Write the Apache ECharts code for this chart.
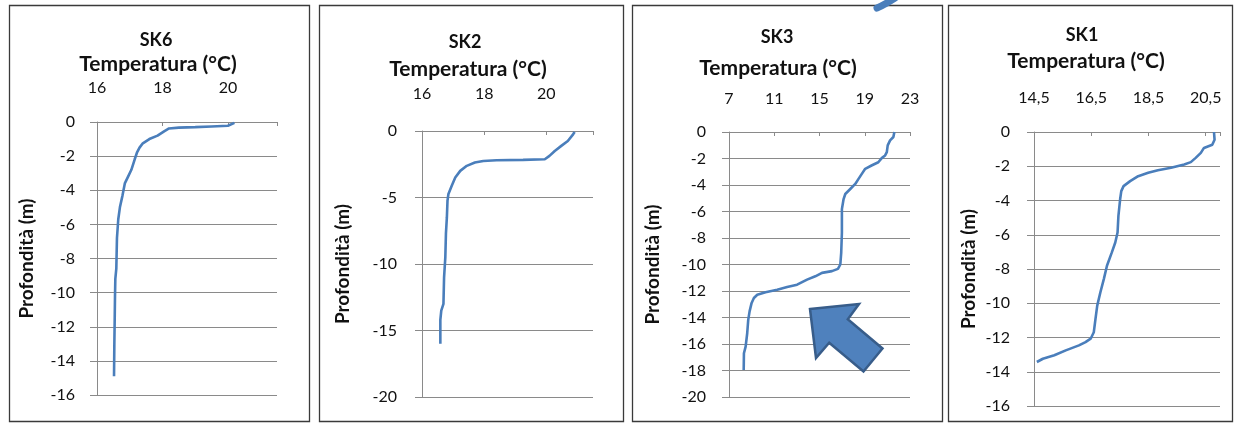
<!DOCTYPE html>
<html><head><meta charset="utf-8">
<script src="https://cdn.jsdelivr.net/npm/echarts@6/dist/echarts.min.js"></script>
<style>html,body{margin:0;padding:0;background:#fff}#c{width:1234px;height:423px}</style>
</head><body><div id="c"></div>
<script>
// ---- data ----
const panelNames = ['SK6', 'SK2', 'SK3', 'SK1'];
const xAxisTitle = 'Temperatura (°C)';
const yAxisTitle = 'Profondità (m)';

const sk6XTicks = [16, 18, 20];
const sk2XTicks = [16, 18, 20];
const sk3XTicks = [7, 11, 15, 19, 23];
const sk1XTicks = [14.5, 16.5, 18.5, 20.5];

const sk6YTicks = [0, -2, -4, -6, -8, -10, -12, -14, -16];
const sk2YTicks = [0, -5, -10, -15, -20];
const sk3YTicks = [0, -2, -4, -6, -8, -10, -12, -14, -16, -18, -20];
const sk1YTicks = [0, -2, -4, -6, -8, -10, -12, -14, -16];

const sk6XRange = [16, 21.5];
const sk2XRange = [16, 21.5];
const sk3XRange = [7, 23];
const sk1XRange = [14.5, 21];

// [temperature °C, depth m]
const sk6 = [[20.2,-0.05],[20.15,-0.15],[20.0,-0.22],[19.5,-0.26],[19.0,-0.3],[18.5,-0.33],[18.2,-0.38],[18.05,-0.55],[17.85,-0.8],[17.6,-1.0],[17.4,-1.25],[17.3,-1.5],[17.22,-1.8],[17.15,-2.2],[17.05,-2.8],[16.95,-3.2],[16.85,-3.6],[16.78,-4.3],[16.7,-5.0],[16.65,-5.7],[16.61,-6.8],[16.59,-8.6],[16.56,-9.2],[16.55,-10.2],[16.54,-11.7],[16.53,-13.0],[16.52,-14.9]];
const sk2 = [[20.91,-0.07],[20.86,-0.25],[20.69,-0.75],[20.48,-1.12],[20.27,-1.5],[20.1,-1.87],[19.95,-2.12],[19.25,-2.17],[18.4,-2.2],[17.97,-2.25],[17.7,-2.37],[17.44,-2.62],[17.23,-3.0],[17.07,-3.5],[16.96,-4.1],[16.85,-4.74],[16.82,-5.24],[16.8,-6.5],[16.77,-7.7],[16.75,-9.5],[16.71,-11.0],[16.69,-13.0],[16.62,-13.5],[16.59,-14.2],[16.59,-16.0]];
const sk3 = [[21.62,0],[21.53,-0.38],[21.24,-0.63],[21.03,-1.01],[20.95,-1.52],[20.8,-1.77],[20.5,-1.97],[20.2,-2.28],[19.6,-2.53],[19.04,-2.78],[18.74,-3.16],[18.45,-3.54],[18.16,-3.92],[17.72,-4.3],[17.28,-4.68],[17.13,-5.06],[16.98,-5.82],[16.98,-7.6],[16.92,-9.1],[16.84,-10.0],[16.63,-10.33],[16.1,-10.5],[15.22,-10.63],[14.63,-10.89],[13.9,-11.14],[13.02,-11.52],[12.14,-11.7],[11.26,-11.9],[10.23,-12.1],[9.5,-12.28],[9.2,-12.53],[9.0,-12.9],[8.82,-13.54],[8.7,-14.18],[8.61,-15.19],[8.47,-16.2],[8.32,-16.7],[8.3,-17.97]];
const sk1 = [[20.79,0],[20.81,-0.45],[20.73,-0.74],[20.44,-0.93],[20.33,-1.22],[20.15,-1.51],[19.98,-1.76],[19.75,-1.9],[19.29,-2.09],[18.83,-2.23],[18.49,-2.38],[18.14,-2.58],[17.86,-2.87],[17.63,-3.16],[17.55,-3.45],[17.51,-3.93],[17.45,-4.9],[17.42,-5.87],[17.34,-6.45],[17.22,-7.03],[17.05,-7.81],[16.94,-8.59],[16.82,-9.36],[16.71,-10.14],[16.65,-10.9],[16.59,-11.69],[16.48,-12.07],[16.3,-12.27],[16.07,-12.46],[15.61,-12.75],[15.21,-13.04],[14.81,-13.24],[14.6,-13.43]];

// ---- layout / style ----
const seriesData = [sk6, sk2, sk3, sk1];
const xTicksAll = [sk6XTicks, sk2XTicks, sk3XTicks, sk1XTicks];
const yTicksAll = [sk6YTicks, sk2YTicks, sk3YTicks, sk1YTicks];
const xRanges = [sk6XRange, sk2XRange, sk3XRange, sk1XRange];

const layout = [
  {grid:{left:97, top:122, width:180, height:273}, xInt:2, yInt:2, titleX:156, titleY:40, subX:158, subY:64, xMargin:26, yMargin:22, nameGap:61, border:[9,5,300,416]},
  {grid:{left:422, top:131, width:171, height:266}, xInt:2, yInt:5, titleX:465, titleY:42, subX:468, subY:69, xMargin:29, yMargin:25, nameGap:70, border:[319,5,304,416]},
  {grid:{left:729, top:132, width:181, height:265}, xInt:4, yInt:2, titleX:777, titleY:37, subX:778, subY:68, xMargin:25, yMargin:23, nameGap:67, border:[632,5,310,416]},
  {grid:{left:1034, top:132, width:186, height:274}, xInt:2, yInt:2, titleX:1082, titleY:35, subX:1086, subY:61, xMargin:26, yMargin:24, nameGap:56, border:[948,5,284,416]}
];

const FONT = 'Lato, "Open Sans", sans-serif';
const GRID_COLOR = '#8a8a8a';
const LINE_COLOR = '#4a7ebb';
const TEXT_COLOR = '#111';

const grids = [], xAxes = [], yAxes = [], series = [], graphics = [];
layout.forEach((L, i) => {
  grids.push(Object.assign({containLabel:false}, L.grid));
  const xt = xTicksAll[i], yt = yTicksAll[i];
  xAxes.push({
    type:'value', gridIndex:i, position:'top',
    min:xRanges[i][0], max:xRanges[i][1], interval:L.xInt,
    axisLine:{show:true, onZero:false, lineStyle:{color:GRID_COLOR, width:1}},
    axisTick:{show:true, inside:true, length:4, lineStyle:{color:GRID_COLOR}},
    splitLine:{show:false},
    axisLabel:{
      margin:L.xMargin, color:TEXT_COLOR, fontFamily:FONT, fontSize:16,
      formatter: v => xt.some(t => Math.abs(t - v) < 1e-6) ? String(v).replace('.', ',') : ''
    }
  });
  yAxes.push({
    type:'value', gridIndex:i,
    min:Math.min(...yt), max:Math.max(...yt), interval:L.yInt,
    name:yAxisTitle, nameLocation:'middle', nameRotate:90, nameGap:L.nameGap,
    nameTextStyle:{fontFamily:FONT, fontWeight:'bold', fontSize:19, color:TEXT_COLOR},
    axisLine:{show:true, onZero:false, lineStyle:{color:GRID_COLOR, width:1}},
    axisTick:{show:true, inside:false, length:7, lineStyle:{color:GRID_COLOR}},
    splitLine:{show:true, lineStyle:{color:GRID_COLOR, width:1}},
    axisLabel:{margin:L.yMargin, color:TEXT_COLOR, fontFamily:FONT, fontSize:16,
      formatter: v => yt.includes(v) ? String(v) : ''}
  });
  series.push({
    type:'line', xAxisIndex:i, yAxisIndex:i, data:seriesData[i],
    showSymbol:false, symbol:'none', smooth:false, animation:false,
    lineStyle:{color:LINE_COLOR, width:2.6}
  });
  const b = L.border;
  graphics.push({type:'rect', z:1, shape:{x:b[0]+0.5, y:b[1]+0.5, width:b[2], height:b[3]},
    style:{fill:null, stroke:'#3a3a3a', lineWidth:1.3}});
  graphics.push({type:'text', z:10, x:L.titleX, y:L.titleY,
    style:{text:panelNames[i], fontFamily:FONT, fontWeight:'bold', fontSize:18, fill:TEXT_COLOR, align:'center', verticalAlign:'middle'}});
  graphics.push({type:'text', z:10, x:L.subX, y:L.subY,
    style:{text:xAxisTitle, fontFamily:FONT, fontWeight:'bold', fontSize:21, fill:TEXT_COLOR, align:'center', verticalAlign:'middle'}});
});

// annotation arrow in SK3 panel
graphics.push({type:'polygon', z:100,
  shape:{points:[[810,309],[859,304],[847.8,319.3],[882.5,348.5],[863.5,371.5],[829.2,342.7],[816,358]]},
  style:{fill:'#4f81bd', stroke:'#385d8a', lineWidth:2.5}});
// partial blue mark at top edge
graphics.push({type:'bezierCurve', z:100,
  shape:{x1:877, y1:8, cpx1:884, cpy1:5, x2:895, y2:-2},
  style:{fill:null, stroke:'#4a7ebb', lineWidth:7, lineCap:'round'}});

const chart = echarts.init(document.getElementById('c'), null, {renderer:'canvas'});
chart.setOption({
  animation:false,
  backgroundColor:'#fff',
  grid:grids, xAxis:xAxes, yAxis:yAxes, series:series,
  graphic:graphics
});
</script>
</body></html>
